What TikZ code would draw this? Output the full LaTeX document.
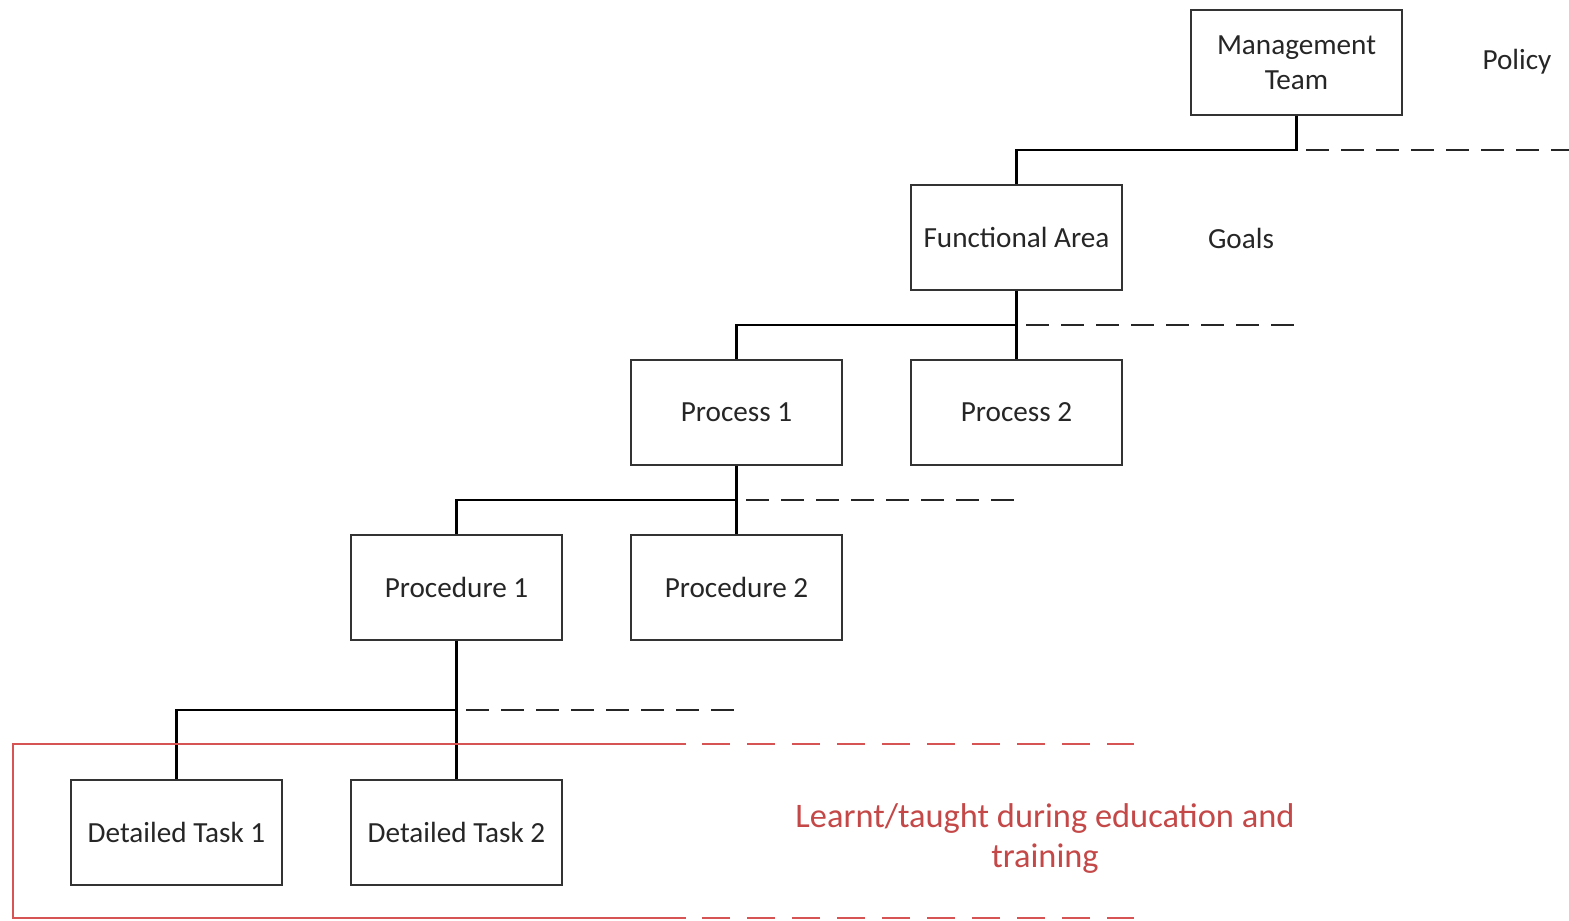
\documentclass[tikz,border=0pt]{standalone}
\usepackage{fontspec}
\setmainfont{Carlito}
\begin{document}
\begin{tikzpicture}[x=0.5pt,y=-0.5pt,
  box/.style={draw=black!80, line width=0.8pt, minimum width=105.5pt, minimum height=52.5pt, inner sep=0pt, align=center, font=\fontsize{14.6}{17.5}\selectfont, text=black!85},
  lbl/.style={font=\fontsize{14.6}{17.5}\selectfont, text=black!85},
  conn/.style={draw=black, line width=1.3pt},
  lvl/.style={draw=black!85, line width=1.3pt, dash pattern=on 11.5pt off 6pt}
]
\definecolor{myred}{RGB}{214,84,84}
\definecolor{redtext}{RGB}{196,72,72}
\useasboundingbox (0,0) rectangle (1569,921);

\node[box] (mt) at (1296.5,62.5) {Management\\Team};
\node[box] (fa) at (1016.5,237.5) {Functional Area};
\node[box] (p1) at (736.5,412.5) {Process 1};
\node[box] (p2) at (1016.5,412.5) {Process 2};
\node[box] (pr1) at (456.5,587.5) {Procedure 1};
\node[box] (pr2) at (736.5,587.5) {Procedure 2};
\node[box] (dt1) at (176.5,832.5) {Detailed Task 1};
\node[box] (dt2) at (456.5,832.5) {Detailed Task 2};

\node[lbl] (policy) at (1517,62) {Policy};
\node[lbl] (goals) at (1241,238) {Goals};
\node[font=\fontsize{17.2}{20}\selectfont, text=redtext, align=center] (learn) at (1045,839) {Learnt/taught during education and\\training};

% junctions
\coordinate (j1) at (1296.5,150);
\coordinate (j2) at (1016.5,325);
\coordinate (j3) at (736.5,500);
\coordinate (j4) at (456.5,710);
\coordinate (d1s) at (1306,150);
\coordinate (d1e) at (1569,150);
\coordinate (d2s) at (1026,325);
\coordinate (d2e) at (1298,325);
\coordinate (d3s) at (746,500);
\coordinate (d3e) at (1020,500);
\coordinate (d4s) at (466,710);
\coordinate (d4e) at (740,710);

\draw[conn] (mt.south) -- (j1) -| (fa.north);
\draw[conn] (fa.south) -- (p2.north);
\draw[conn] (j2) -| (p1.north);
\draw[conn] (p1.south) -- (pr2.north);
\draw[conn] (j3) -| (pr1.north);
\draw[conn] (pr1.south) -- (dt2.north);
\draw[conn] (j4) -| (dt1.north);

\draw[lvl] (d1s) -- (d1e);
\draw[lvl] (d2s) -- (d2e);
\draw[lvl] (d3s) -- (d3e);
\draw[lvl] (d4s) -- (d4e);

% red region
\coordinate (ra) at (686,744);
\coordinate (rb) at (13,744);
\coordinate (rc) at (13,918);
\coordinate (rd) at (686,918);
\coordinate (re) at (1134,744);
\coordinate (rf) at (1134,918);
\draw[draw=myred, line width=0.9pt] (ra) -- (rb) -- (rc) -- (rd);
\draw[draw=myred, line width=1.1pt, dash pattern=on 14pt off 8.5pt] ([xshift=8pt]ra) -- (re);
\draw[draw=myred, line width=1.1pt, dash pattern=on 14pt off 8.5pt] ([xshift=8pt]rd) -- (rf);
\end{tikzpicture}
\end{document}
